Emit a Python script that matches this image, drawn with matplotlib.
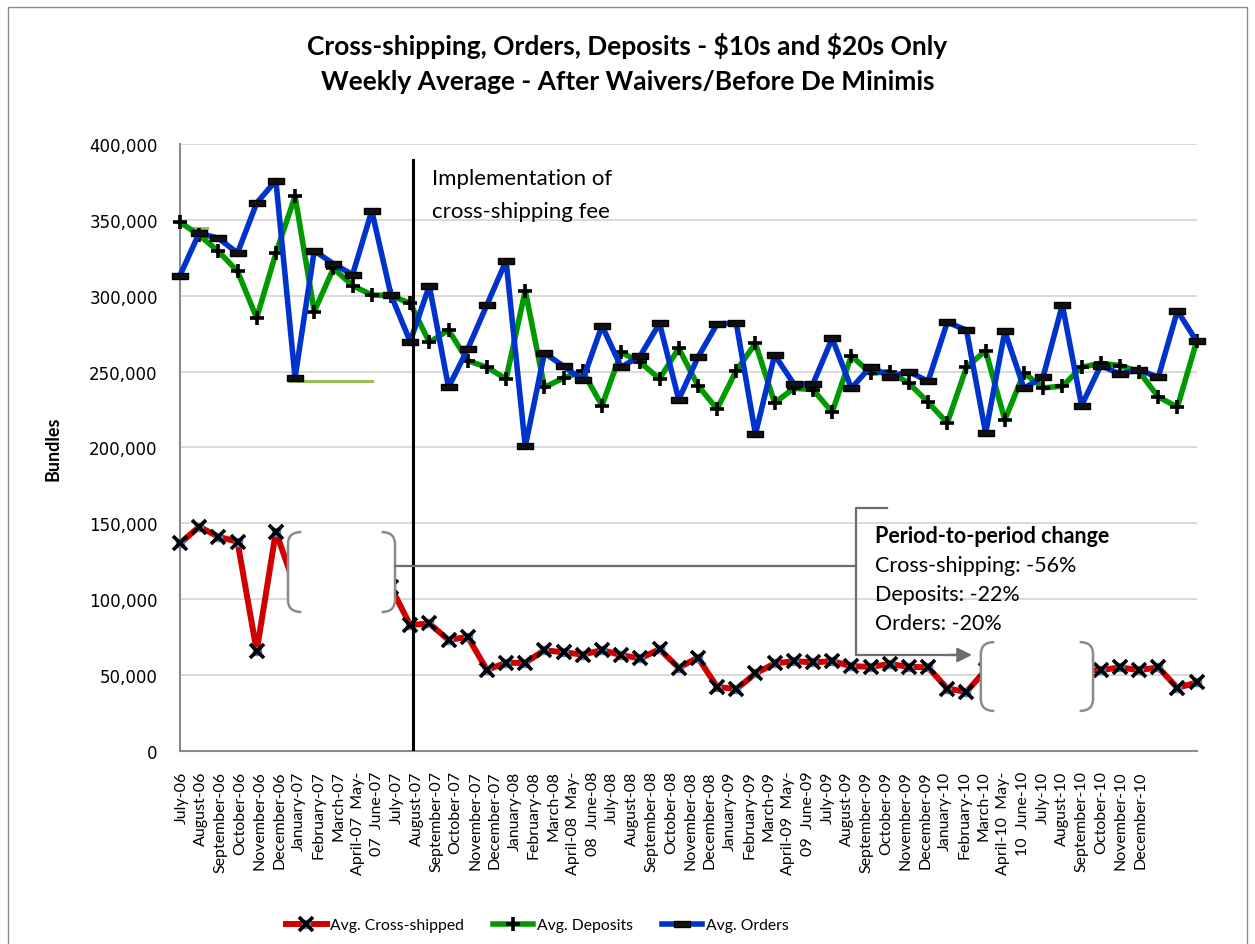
import numpy as np
import matplotlib
matplotlib.use("Agg")
import matplotlib.pyplot as plt
from matplotlib.patches import Rectangle, PathPatch, FancyArrowPatch
from matplotlib.path import Path
from matplotlib.legend_handler import HandlerTuple
from matplotlib.ticker import FuncFormatter

plt.rcParams["font.family"] = ["Lato", "DejaVu Sans"]

# -------------------------
# data (weekly averages, bundles)
# -------------------------
month_labels = [
    "July-06", "August-06", "September-06", "October-06", "November-06", "December-06",
    "January-07", "February-07", "March-07", "April-07  May-", "07  June-07",
    "July-07", "August-07", "September-07", "October-07", "November-07", "December-07",
    "January-08", "February-08", "March-08", "April-08  May-", "08  June-08",
    "July-08", "August-08", "September-08", "October-08", "November-08", "December-08",
    "January-09", "February-09", "March-09", "April-09  May-", "09  June-09",
    "July-09", "August-09", "September-09", "October-09", "November-09", "December-09",
    "January-10", "February-10", "March-10", "April-10  May-", "10  June-10",
    "July-10", "August-10", "September-10", "October-10", "November-10", "December-10",
]

cross_shipped = [
    136800, 147800, 141200, 137900, 65800, 144500, 108300, 104000, 101000, 99000,
    103000, 108000, 83000, 84100, 73100, 75300, 53500, 58100, 58100, 66500,
    65000, 63600, 66500, 63200, 61000, 67100, 54800, 61600, 42300, 40800,
    51100, 57700, 59200, 58400, 59200, 55900, 55500, 57300, 55500, 55100,
    41200, 39000, 53300, 52000, 54000, 55000, 53500, 53000, 53300, 55100,
    53300, 55100, 41600, 45200,
]

deposits = [
    348400, 340000, 329300, 316100, 285400, 328000, 365500, 289600, 318000, 306700,
    300500, 300000, 295100, 269300, 277400, 257200, 252900, 245200, 303300, 239700,
    245800, 250200, 227600, 262700, 256100, 245200, 265400, 240800, 225400, 250700,
    268600, 229400, 239000, 238200, 223200, 260500, 248900, 250000, 242300, 229800,
    216200, 252900, 263800, 218200, 249100, 239300, 240400, 252900, 255500, 254000,
    250000, 233300, 226700, 269900,
]

orders = [
    313300, 341200, 337900, 328200, 361100, 375900, 245900, 329700, 321000, 313900,
    355900, 300500, 269800, 306600, 239700, 264900, 293900, 323000, 200700, 262300,
    253500, 244500, 280300, 252900, 260500, 281800, 231600, 259400, 281400, 282000,
    208800, 261000, 241900, 241900, 271900, 239000, 253300, 246700, 250000, 243600,
    282500, 277400, 209600, 276500, 239000, 246700, 294000, 227600, 254000, 248500,
    251100, 246300, 290100, 269900,
]

y_ticks = [0, 50000, 100000, 150000, 200000, 250000, 300000, 350000, 400000]

change_lines = ["Cross-shipping: -56%", "Deposits: -22%", "Orders: -20%"]

x = np.arange(len(orders))

# -------------------------
# figure
# -------------------------
fig = plt.figure(figsize=(12.55, 9.45), dpi=100)
ax = fig.add_axes([0.1434, 0.2042, 0.8101, 0.6424])

# chart border
fig.add_artist(Rectangle((8 / 1255, -0.01), 1239 / 1255, 1.0015,
                         transform=fig.transFigure, fill=False,
                         edgecolor="#8c8c8c", lw=1))

ax.set_xlim(0, len(orders) - 1)
ax.set_ylim(0, 400000)
for s in ["top", "right"]:
    ax.spines[s].set_visible(False)
for s in ["left", "bottom"]:
    ax.spines[s].set_color("#8a8a8a")
    ax.spines[s].set_linewidth(1.5)
ax.yaxis.grid(True, color="#d9d9d9", lw=1.4)
ax.set_axisbelow(True)

ax.set_yticks(y_ticks)
ax.yaxis.set_major_formatter(FuncFormatter(lambda v, p: f"{v:,.0f}"))
ax.tick_params(axis="y", length=0, pad=16)
for lab in ax.get_yticklabels():
    lab.set_fontfamily("DejaVu Sans")
    lab.set_fontsize(12)

label_pos = 0.09 + np.arange(len(month_labels)) * 1.02
ax.set_xticks(label_pos)
ax.set_xticklabels(month_labels, rotation=90, ha="center", va="top", fontsize=11.5)
ax.tick_params(axis="x", length=0, pad=14)

ax.set_ylabel("Bundles", fontsize=13, fontweight="bold", labelpad=20)

# stray highlighter strokes
ax.plot([0.68, 1.41], [344500, 344500], color="#9bbb59", lw=2.2, zorder=1.5)
ax.plot([5.74, 10.0], [244100, 244100], color="#9bbb59", lw=2.2, zorder=1.5)

# series
red_line, = ax.plot(x, cross_shipped, color="#d00000", lw=4.3, marker="s", ms=6,
                    mfc="#4f81bd", mec="#4f81bd", zorder=3, clip_on=False)
red_x, = ax.plot(x, cross_shipped, ls="none", marker="x", ms=10, mew=2.6,
                 color="black", zorder=3.1, clip_on=False)
green_line, = ax.plot(x, deposits, color="#009900", lw=4.0, marker="+", ms=10, mew=2.6,
                      mec="black", zorder=3.2, clip_on=False)
bar = [(-1, -0.36), (1, -0.36), (1, 0.36), (-1, 0.36), (-1, -0.36)]
blue_line, = ax.plot(x, orders, color="#0033cc", lw=4.0, marker=bar, ms=11.5,
                     mfc="#111111", mec="black", mew=1, zorder=3.3, clip_on=False)

# implementation marker
ax.plot([12.16, 12.16], [0, 389700], color="black", lw=2.2, zorder=4)
ax.text(13.14, 373600, "Implementation of", fontsize=16, va="baseline", ha="left")
ax.text(13.14, 351700, "cross-shipping fee", fontsize=16, va="baseline", ha="left")


def bracket_pair(x0, x1, y0, y1, tip=0.7, r=8000):
    # white box framed by rounded brackets on both sides
    ax.add_patch(Rectangle((x0, y0), x1 - x0, y1 - y0, facecolor="white",
                           edgecolor="none", zorder=5))
    left = Path([(x0 + tip, y1), (x0, y1), (x0, y1 - r), (x0, y0 + r), (x0, y0), (x0 + tip, y0)],
                [Path.MOVETO, Path.CURVE3, Path.CURVE3, Path.LINETO, Path.CURVE3, Path.CURVE3])
    right = Path([(x1 - tip, y1), (x1, y1), (x1, y1 - r), (x1, y0 + r), (x1, y0), (x1 - tip, y0)],
                 [Path.MOVETO, Path.CURVE3, Path.CURVE3, Path.LINETO, Path.CURVE3, Path.CURVE3])
    for pth in (left, right):
        ax.add_patch(PathPatch(pth, fill=False, edgecolor="#8c8c8c", lw=1.8, zorder=6,
                               clip_on=False))


bracket_pair(5.63, 11.21, 91600, 144300)
bracket_pair(41.75, 47.6, 26400, 71800)

# connector to the summary
conn = "#6d6d6d"
ax.plot([11.21, 35.25], [121900, 121900], color=conn, lw=1.6, zorder=6)
ax.plot([36.86, 35.25, 35.25, 40.4], [160100, 160100, 63300, 63300], color=conn, lw=1.6, zorder=6)
ax.add_patch(FancyArrowPatch((40.0, 63300), (41.29, 63300), arrowstyle="-|>",
                             mutation_scale=22, color=conn, lw=1.6, zorder=6,
                             shrinkA=0, shrinkB=0))

ax.text(36.24, 137900, "Period-to-period change", fontsize=15.5, fontweight="bold",
        va="baseline", ha="left", zorder=7)
for i, line in enumerate(change_lines):
    ax.text(36.24, 118800 - i * 19100, line, fontsize=15.5, va="baseline", ha="left", zorder=7)

# title
fig.text(0.5, 1 - 46 / 945, "Cross-shipping, Orders, Deposits - \\$10s and \\$20s Only",
         ha="center", va="center", fontsize=19, fontweight="bold")
fig.text(0.5, 1 - 82 / 945, "Weekly Average - After Waivers/Before De Minimis",
         ha="center", va="center", fontsize=19, fontweight="bold")

# legend
fig.legend([(red_line, red_x), green_line, blue_line],
           ["Avg. Cross-shipped", "Avg. Deposits", "Avg. Orders"],
           handler_map={tuple: HandlerTuple(ndivide=1)},
           loc="center", bbox_to_anchor=(537 / 1255, 1 - 926 / 945), ncol=3,
           frameon=False, fontsize=11.3, handlelength=2.6, handletextpad=0.2,
           columnspacing=1.85)

fig.savefig("out.png", dpi=100)
